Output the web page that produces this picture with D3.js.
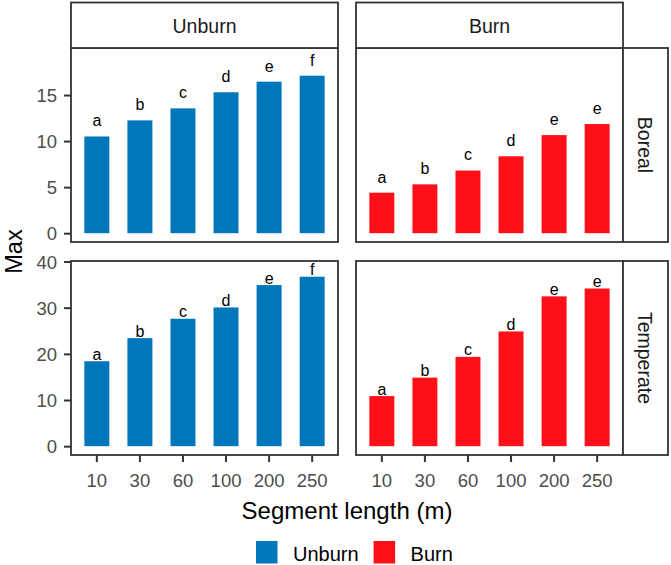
<!DOCTYPE html>
<html>
<head>
<meta charset="utf-8">
<script src="https://cdn.jsdelivr.net/npm/d3@7"></script>
<style>
  body { margin: 0; background: #fff; }
  svg { display: block; font-family: "Liberation Sans", Arial, sans-serif; }
</style>
</head>
<body>
<div id="container"></div>
<script>
// chart values
const segments = ["10", "30", "60", "100", "200", "250"];
const treatments = ["Unburn", "Burn"];
const regions = ["Boreal", "Temperate"];

const borealUnburn = [10.5, 12.25, 13.55, 15.3, 16.45, 17.1];
const borealBurn = [4.4, 5.3, 6.8, 8.35, 10.65, 11.85];
const temperateUnburn = [18.4, 23.4, 27.6, 30.05, 34.9, 36.7];
const temperateBurn = [10.85, 14.85, 19.35, 24.85, 32.45, 34.15];

const borealUnburnLetters = ["a", "b", "c", "d", "e", "f"];
const borealBurnLetters = ["a", "b", "c", "d", "e", "e"];
const temperateUnburnLetters = ["a", "b", "c", "d", "e", "f"];
const temperateBurnLetters = ["a", "b", "c", "d", "e", "e"];

// label height above the bar (data units) per region row
const labelLift = [1.1, 0.3];
// y range covered by data + labels per row, before 5% expansion
const rowLimits = [[0, 19.15], [0, 38.2]];
const yTicks = [[0, 5, 10, 15], [0, 10, 20, 30, 40]];

const colors = { Unburn: "#0077BB", Burn: "#FF1018" };

const values = {
  Boreal: { Unburn: borealUnburn, Burn: borealBurn },
  Temperate: { Unburn: temperateUnburn, Burn: temperateBurn }
};
const letters = {
  Boreal: { Unburn: borealUnburnLetters, Burn: borealBurnLetters },
  Temperate: { Unburn: temperateUnburnLetters, Burn: temperateBurnLetters }
};

const width = 671, height = 565;
const panelLeft = 71, panelW = 267, gapX = 18;
const stripTop = 2.5, stripH = 45.5, sideStripW = 45;
const panelTop = stripTop + stripH, panelH = 194, gapY = 19;
const border = "#333333";
const lineW = 1.8;
const tickLen = 7;

const svg = d3.select('#container')
  .append('svg')
  .attr('width', width)
  .attr('height', height);

const x = d3.scaleBand()
  .domain(segments)
  .range([0, panelW])
  .paddingInner(0.42)
  .paddingOuter(0.31);

regions.forEach(function (region, r) {
  const top = panelTop + r * (panelH + gapY);
  const lim = rowLimits[r];
  const pad = (lim[1] - lim[0]) * 0.05;
  const y = d3.scaleLinear()
    .domain([lim[0] - pad, lim[1] + pad])
    .range([top + panelH, top]);

  // y axis on the left column only
  const yAxis = svg.append('g')
    .attr('transform', `translate(${panelLeft},0)`)
    .call(d3.axisLeft(y).tickValues(yTicks[r]).tickSize(tickLen).tickPadding(6));
  yAxis.select('.domain').remove();
  yAxis.selectAll('.tick line').attr('stroke', border).attr('stroke-width', 2);
  yAxis.selectAll('.tick text')
    .attr('fill', '#4D4D4D')
    .style('font-size', '18.5px')
    .attr('x', -(tickLen + 7))
    .attr('dy', '0.36em');

  treatments.forEach(function (trt, c) {
    const left = panelLeft + c * (panelW + gapX);
    const g = svg.append('g').attr('transform', `translate(${left},0)`);

    g.append('rect')
      .attr('x', 0).attr('y', top)
      .attr('width', panelW).attr('height', panelH)
      .attr('fill', '#fff');

    const rows = segments.map(function (s, i) {
      return { seg: s, v: values[region][trt][i], lab: letters[region][trt][i] };
    });

    g.selectAll('.bar')
      .data(rows)
      .enter().append('rect')
      .attr('class', 'bar')
      .attr('x', d => x(d.seg))
      .attr('width', x.bandwidth())
      .attr('y', d => y(d.v))
      .attr('height', d => y(0) - y(d.v))
      .attr('fill', colors[trt]);

    g.selectAll('.lab')
      .data(rows)
      .enter().append('text')
      .attr('class', 'lab')
      .attr('x', d => x(d.seg) + x.bandwidth() / 2)
      .attr('y', d => y(d.v + labelLift[r]))
      .attr('text-anchor', 'middle')
      .style('font-size', '16px')
      .attr('fill', '#000')
      .text(d => d.lab);

    g.append('rect')
      .attr('x', 0).attr('y', top)
      .attr('width', panelW).attr('height', panelH)
      .attr('fill', 'none')
      .attr('stroke', border)
      .attr('stroke-width', lineW);

    // column strips on top
    if (r === 0) {
      g.append('rect')
        .attr('x', 0).attr('y', stripTop)
        .attr('width', panelW).attr('height', stripH)
        .attr('fill', '#fff')
        .attr('stroke', border)
        .attr('stroke-width', lineW);
      g.append('text')
        .attr('x', panelW / 2)
        .attr('y', stripTop + stripH / 2 + 7.5)
        .attr('text-anchor', 'middle')
        .style('font-size', '19.5px')
        .attr('fill', '#1A1A1A')
        .text(trt);
    }

    // x axis on the bottom row
    if (r === regions.length - 1) {
      const xAxis = g.append('g')
        .attr('transform', `translate(0,${top + panelH})`)
        .call(d3.axisBottom(x).tickSize(tickLen).tickPadding(6));
      xAxis.select('.domain').remove();
      xAxis.selectAll('.tick line').attr('stroke', border).attr('stroke-width', 2);
      xAxis.selectAll('.tick text')
        .attr('fill', '#4D4D4D')
        .style('font-size', '18.5px')
        .attr('y', 0)
        .attr('dy', 0)
        .attr('transform', `translate(0,${31.5})`);
    }
  });

  // row strip on the right
  const sx = panelLeft + 2 * panelW + gapX;
  svg.append('rect')
    .attr('x', sx).attr('y', top)
    .attr('width', sideStripW).attr('height', panelH)
    .attr('fill', '#fff')
    .attr('stroke', border)
    .attr('stroke-width', lineW);
  svg.append('text')
    .attr('transform', `translate(${sx + sideStripW / 2 - 7.5},${top + panelH / 2}) rotate(90)`)
    .attr('text-anchor', 'middle')
    .style('font-size', '19.5px')
    .attr('fill', '#1A1A1A')
    .text(region);
});

// axis titles
svg.append('text')
  .attr('x', panelLeft + panelW + gapX / 2)
  .attr('y', 519)
  .attr('text-anchor', 'middle')
  .style('font-size', '24px')
  .attr('fill', '#000')
  .text('Segment length (m)');

svg.append('text')
  .attr('transform', `translate(21.5,${panelTop + (2 * panelH + gapY) / 2}) rotate(-90)`)
  .attr('text-anchor', 'middle')
  .style('font-size', '23.5px')
  .attr('fill', '#000')
  .text('Max');

// legend
const legend = svg.append('g').attr('transform', 'translate(256,541)');
let lx = 0;
treatments.forEach(function (trt) {
  legend.append('rect')
    .attr('x', lx).attr('y', 0)
    .attr('width', 21.5).attr('height', 22.5)
    .attr('fill', colors[trt]);
  const t = legend.append('text')
    .attr('x', lx + 37)
    .attr('y', 19.5)
    .style('font-size', '20px')
    .attr('fill', '#000')
    .text(trt);
  lx += 37 + t.node().getComputedTextLength() + 15;
});
</script>
</body>
</html>
